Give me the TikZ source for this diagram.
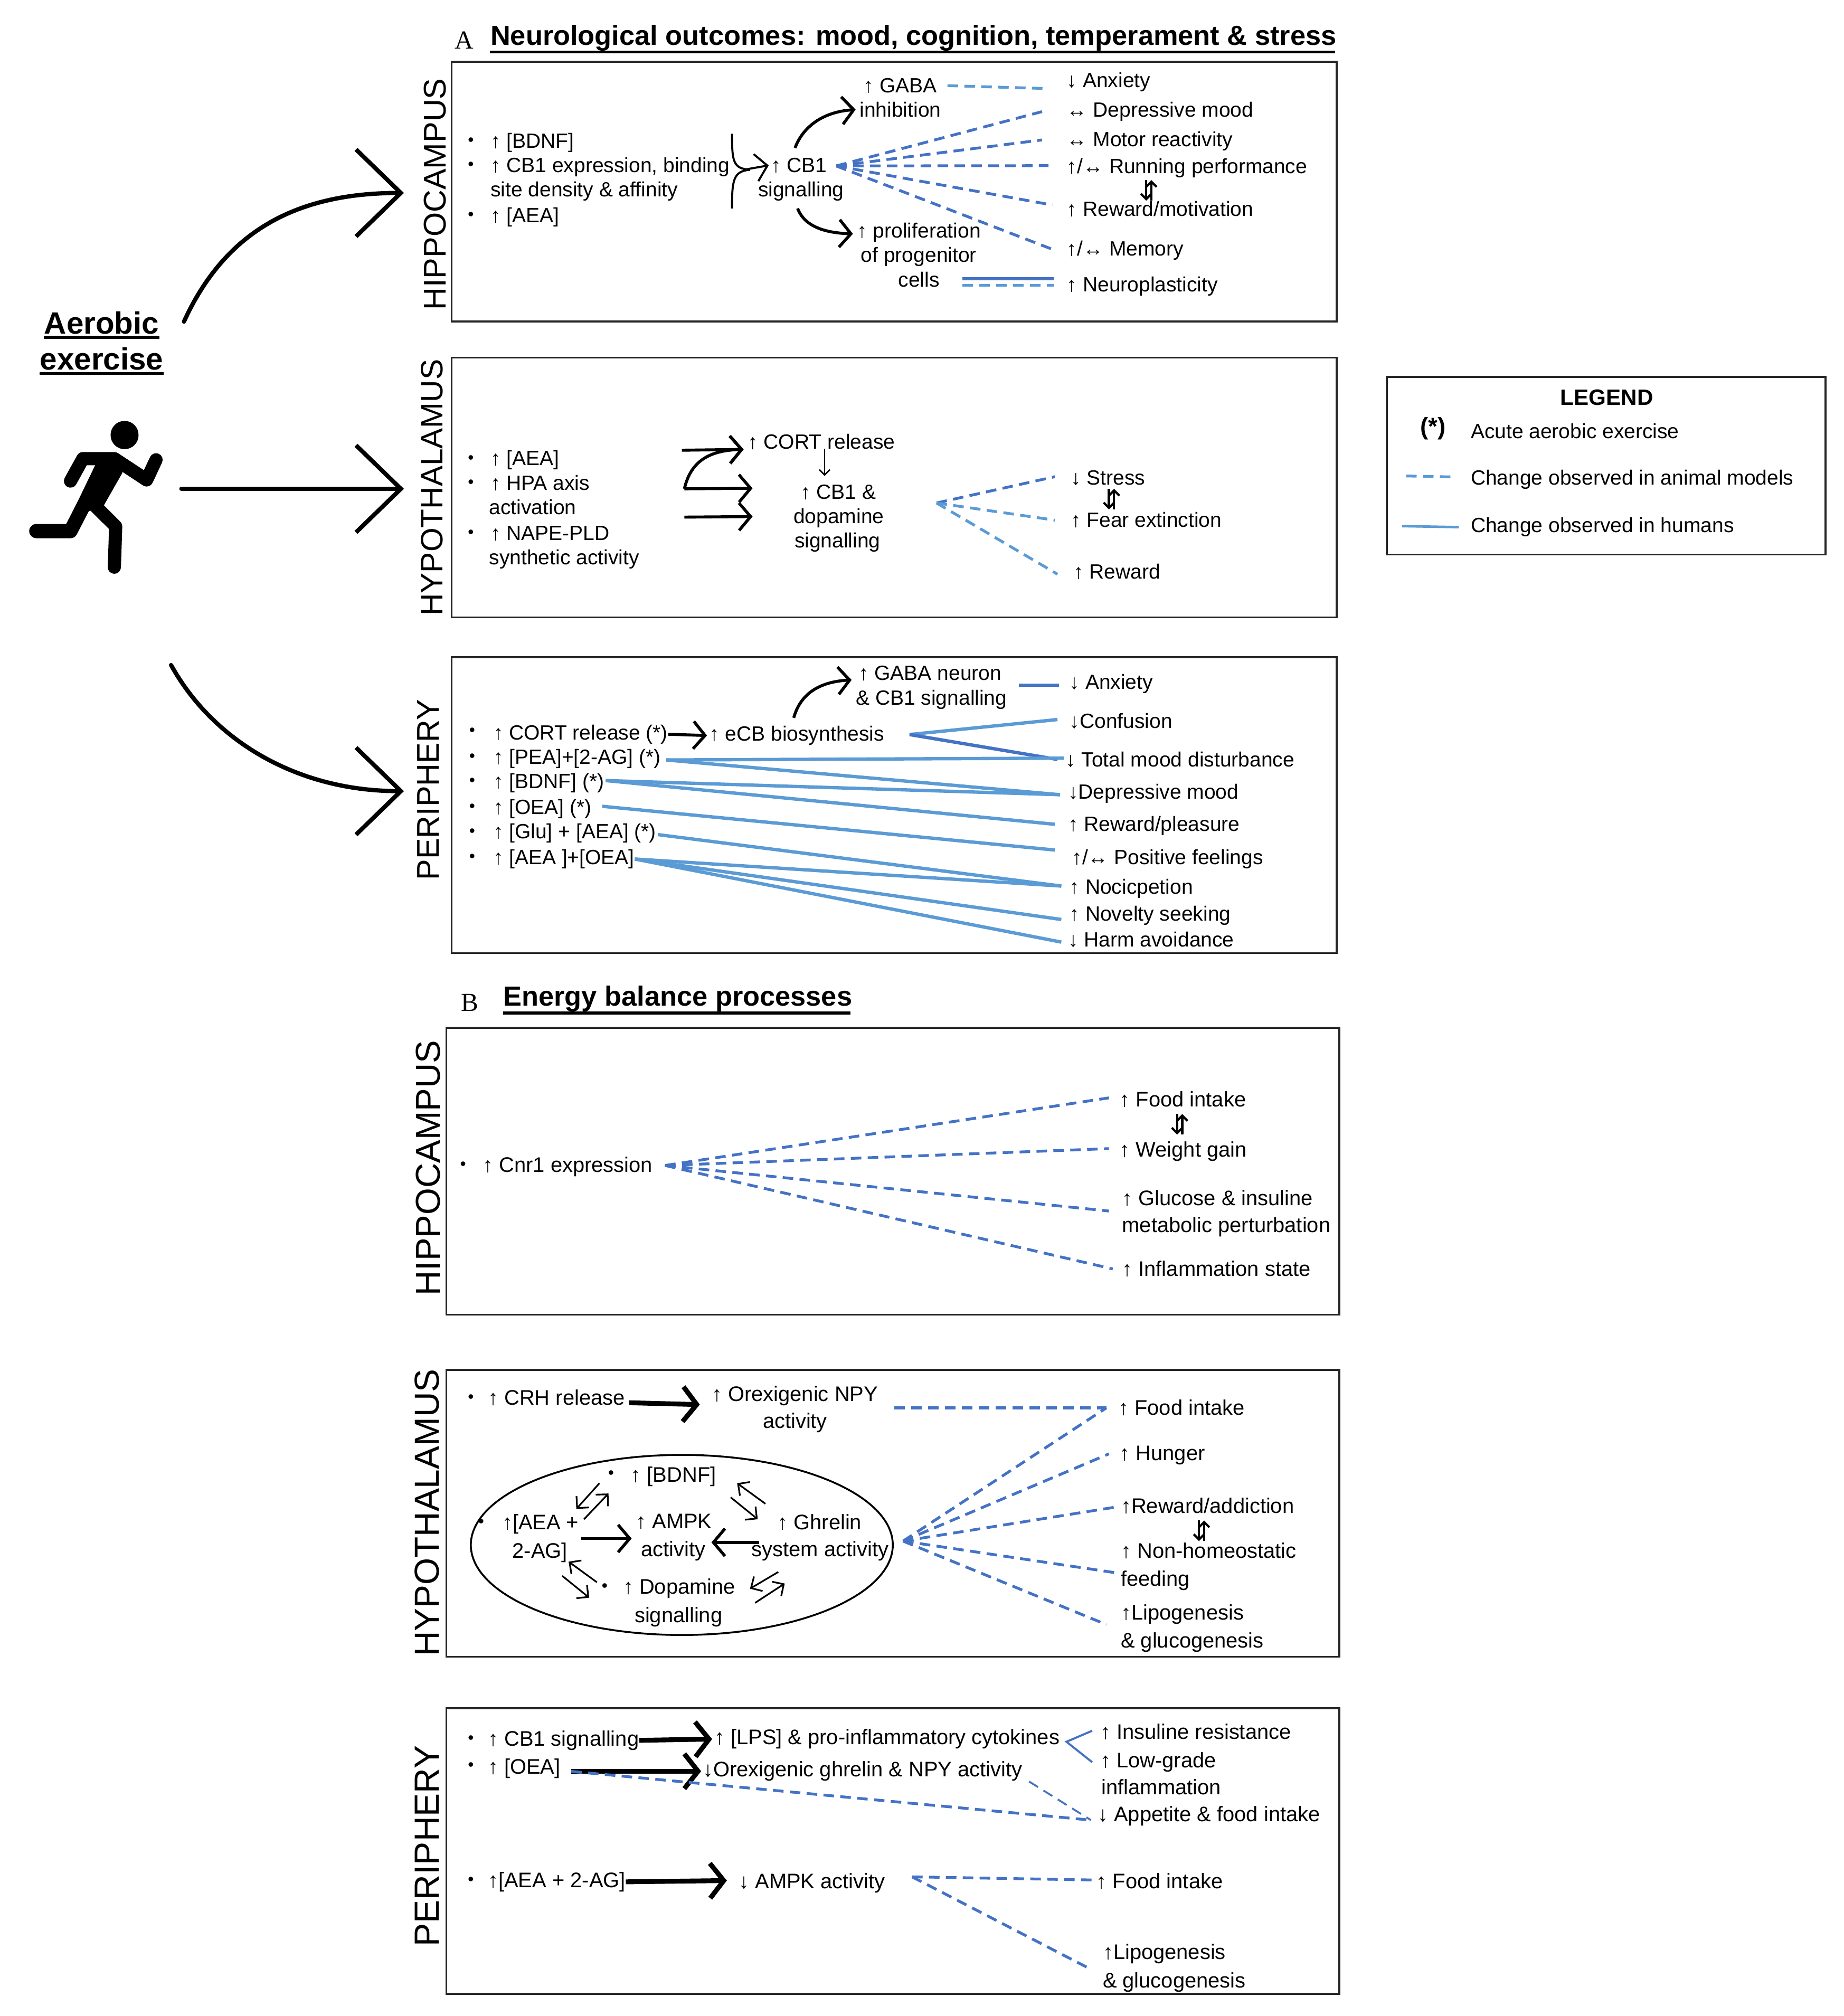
\documentclass[tikz,border=0pt]{standalone}
\usepackage{fontspec}
\setmainfont{Liberation Sans}
\newfontfamily\serifA{Liberation Serif}
\usetikzlibrary{arrows.meta,calc}
\definecolor{lightb}{HTML}{5B9BD5}
\definecolor{darkb}{HTML}{4472C4}
\tikzset{
 txt/.style={anchor=base west,inner sep=0pt,yshift=-0.12cm,font=\fontsize{11.1}{13}\selectfont},
 txtb/.style={anchor=base west,inner sep=0pt,yshift=-0.125cm,font=\fontsize{11.35}{14}\selectfont},
 bul/.style={anchor=center,inner sep=0pt,font=\fontsize{9}{10}\selectfont},
 ctr/.style={txt,anchor=base},
 panel/.style={draw=black!85,line width=1pt},
 vlab/.style={anchor=center,rotate=90,inner sep=0pt},
 ttl/.style={anchor=base west,inner sep=0pt,font=\fontsize{14.9}{16}\selectfont\bfseries},
 lett/.style={anchor=base,inner sep=0pt,font=\fontsize{14}{16}\selectfont\serifA},
 ttlrule/.style={line width=1.5pt,line cap=butt},
 dl/.style={draw=lightb,line width=1.5pt,dash pattern=on 0.2cm off 0.12cm},
 dd/.style={draw=darkb,line width=1.5pt,dash pattern=on 0.2cm off 0.12cm},
 sl/.style={draw=lightb,line width=1.8pt},
 sd/.style={draw=darkb,line width=1.8pt},
 bigarr/.style={line width=2.3pt,line cap=round,-{Straight Barb[length=0.85cm,width=1.65cm,line width=2.3pt]}},
 medarr/.style={line width=1.6pt,-{Straight Barb[length=0.22cm,width=0.52cm]}},
 hvyarr/.style={line width=2.6pt,-{Straight Barb[length=0.26cm,width=0.66cm]}},
 thnarr/.style={line width=0.8pt,-{Straight Barb[length=0.1cm,width=0.2cm]}},
 halfarr/.style={line width=0.9pt,-{Straight Barb[length=0.16cm,width=0.32cm]}},
 updown/.pic={
  \draw[line width=1.2pt,-{Straight Barb[length=0.1cm,width=0.2cm]}] (-2,-8) -- (-2,8);
  \draw[line width=1.2pt,-{Straight Barb[length=0.1cm,width=0.2cm]}] (2,8) -- (2,-8);
 },
}
\newcommand{\T}[4]{\node[txt] (#1) at (#2,#3) {#4};}
\newcommand{\U}[4]{\node[txtb] (#1) at (#2,#3) {#4};}
\newcommand{\Bu}[3]{\node[bul] (#1) at (#2,#3) {•};}
\begin{document}
\begin{tikzpicture}[x=0.02437cm,y=-0.02437cm]
\useasboundingbox (0,0) rectangle (34.92cm,-38.19cm);
% ---------- left column
\node[anchor=center,inner sep=0pt,font=\fontsize{16.6}{18}\selectfont\bfseries] (aer) at (79,251) {Aerobic};
\node[anchor=center,inner sep=0pt,font=\fontsize{16.6}{18}\selectfont\bfseries] (exe) at (79,279) {exercise};
\draw[ttlrule] ([yshift=-1.5pt]aer.south west) -- ([yshift=-1.5pt]aer.south east);
\draw[ttlrule] ([yshift=-1.5pt]exe.south west) -- ([yshift=-1.5pt]exe.south east);
\begin{scope}[yshift=-5cm,x=0.0051cm,y=-0.004464cm]
 \fill (463,725) ellipse [x radius=52,y radius=60];
 \fill (320,805) -- (430,800) -- (455,885) -- (385,1025) -- (325,1050) -- (245,1110) -- (355,850) -- cycle;
 \draw[line width=0.25cm,line cap=round,line join=round] (262,920) -- (308,825) -- (425,825) -- (545,915) -- (580,830);
 \draw[line width=0.27cm,line cap=round,line join=round] (135,1132) -- (262,1132) -- (340,960);
 \draw[line width=0.25cm,line cap=round,line join=round] (340,1010) -- (430,1112) -- (425,1285);
\end{scope}
\coordinate (a1s) at (143,250); \coordinate (a1e) at (314,150);
\coordinate (a2s) at (141,380); \coordinate (a2e) at (314,380);
\coordinate (a3s) at (133,517); \coordinate (a3e) at (314,615);
\draw[bigarr] (a1s) .. controls (175,180) and (230,150) .. (a1e);
\draw[bigarr] (a2s) -- (a2e);
\draw[bigarr] (a3s) .. controls (165,575) and (230,615) .. (a3e);
% ---------- panels
\node[ttl] (tA) at (381,35) {Neurological outcomes: mood, cognition, temperament \& stress};
\draw[ttlrule] ([yshift=-1pt]tA.base west) ++(0,4) -- ++(657,0);
\node[lett] (lA) at (361,38) {A};
\draw[panel] (351,48) rectangle (1039,250);
\draw[panel] (351,278) rectangle (1039,480);
\draw[panel] (351,511) rectangle (1039,741);
\node[ttl] (tB) at (391,782) {Energy balance processes};
\draw[ttlrule] ([yshift=-1pt]tB.base west) ++(0,4) -- ++(270,0);
\node[lett] (lB) at (365,786) {B};
\draw[panel] (347,799) rectangle (1041,1022);
\draw[panel] (347,1065) rectangle (1041,1288);
\draw[panel] (347,1328) rectangle (1041,1550);
\node[vlab,font=\fontsize{16.9}{19}\selectfont] (v1) at (338,151) {HIPPOCAMPUS};
\node[vlab,font=\fontsize{16.7}{19}\selectfont] (v2) at (336,379) {HYPOTHALAMUS};
\node[vlab,font=\fontsize{16.9}{19}\selectfont] (v3) at (333,614) {PERIPHERY};
\node[vlab,font=\fontsize{18.6}{21}\selectfont] (v4) at (333,908) {HIPPOCAMPUS};
\node[vlab,font=\fontsize{18.7}{21}\selectfont] (v5) at (332,1176) {HYPOTHALAMUS};
\node[vlab,font=\fontsize{18.8}{21}\selectfont] (v6) at (332,1435) {PERIPHERY};
% ---------- A hippocampus
\Bu{ba1}{366}{110}\Bu{ba2}{366}{129}\Bu{ba3}{366}{168}
\T{bdnf}{381}{110}{↑ [BDNF]}
\T{cb1e}{381}{129}{↑ CB1 expression, binding}
\T{site}{381}{148}{site density \& affinity}
\T{aea}{381}{168}{↑ [AEA]}
\T{cb1}{599}{129}{↑ CB1}
\T{sig}{589}{148}{signalling}
\T{gaba}{671}{67}{↑ GABA}
\T{inh}{668}{86}{inhibition}
\T{prol}{666}{180}{↑ proliferation}
\T{prog}{669}{199}{of progenitor}
\T{cells}{698}{218}{cells}
\T{anx}{829}{63}{↓ Anxiety}
\T{dep}{829}{86}{↔ Depressive mood}
\T{mot}{829}{109}{↔ Motor reactivity}
\T{run}{829}{130}{↑/↔ Running performance}
\T{rew}{829}{163}{↑ Reward/motivation}
\T{mem}{829}{194}{↑/↔ Memory}
\T{neu}{829}{222}{↑ Neuroplasticity}
\coordinate (br1) at (569,104); \coordinate (br2) at (569,162); \coordinate (brm) at (583,132);
\draw[line width=1.1pt] (br1) .. controls (569,126) and (570,131) .. (brm);
\draw[line width=1.1pt] (br2) .. controls (569,140) and (570,133) .. (brm);
\draw[medarr,line width=1.1pt] (578,132) -- ([xshift=-1]cb1.west);
\coordinate (cu) at (618,115); \coordinate (cd) at (620,162);
\draw[medarr] (cu) .. controls (624,99) and (639,87) .. ([xshift=-2]inh.west);
\draw[medarr] (cd) .. controls (625,175) and (639,181) .. ([shift={(-3,1)}]prol.west);
\coordinate (h1) at (650,129);
\draw[dl] ([shift={(8,0)}]gaba.east) -- ([shift={(-17,5)}]anx.west);
\draw[dd] (h1) -- ([shift={(-19,0)}]dep.west);
\draw[dd] (h1) -- ([shift={(-19,-1)}]mot.west);
\draw[dd] (h1) -- ([shift={(-14,-2)}]run.west);
\draw[dd] (h1) -- ([shift={(-11,-3)}]rew.west);
\draw[dd] (h1) -- ([shift={(-11,-1)}]mem.west);
\draw[sd] ([shift={(-81,-6)}]neu.west) -- ([shift={(-10,-6)}]neu.west);
\draw[dl] ([shift={(-81,-1)}]neu.west) -- ([shift={(-10,-1)}]neu.west);
\pic at (893,148) {updown};
% ---------- A hypothalamus
\Bu{bb1}{366}{357}\Bu{bb2}{366}{376}\Bu{bb3}{366}{415}
\T{haea}{381}{357}{↑ [AEA]}
\T{hpa}{381}{376}{↑ HPA axis}
\T{act}{380}{395}{activation}
\T{nape}{381}{415}{↑ NAPE-PLD}
\T{syn}{380}{434}{synthetic activity}
\T{cort}{581}{344}{↑ CORT release}
\T{hcb}{622}{383}{↑ CB1 \&}
\node[ctr] (hdop) at (652,402) {dopamine};
\node[ctr] (hsig) at (651,421) {signalling};
\coordinate (hs1) at (530,350); \coordinate (hs2) at (532,380); \coordinate (hs3) at (532,402);
\draw[medarr] (hs1) -- ([shift={(-3,6)}]cort.west);
\draw[medarr] (hs2) .. controls (537,358) and (552,350) .. ([shift={(-3,6)}]cort.west);
\draw[medarr] (hs2) -- ([shift={(-37,-3)}]hcb.west);
\draw[medarr] (hs3) -- ([shift={(-37,19)}]hcb.west);
\coordinate (cdn) at (641,349); \coordinate (cde) at (641,370);
\draw[thnarr] (cdn) -- (cde);
\T{str}{832}{372}{↓ Stress}
\T{fear}{832}{405}{↑ Fear extinction}
\T{hrew}{834}{445}{↑ Reward}
\coordinate (h2) at (728,391);
\draw[dd] (h2) -- ([shift={(-12,-1)}]str.west);
\draw[dl] (h2) -- ([shift={(-12,0)}]fear.west);
\draw[dl] (h2) -- ([shift={(-12,2)}]hrew.west);
\pic at (864,388) {updown};
% ---------- A periphery
\Bu{bc1}{367}{569}\Bu{bc2}{367}{589}\Bu{bc3}{367}{608}\Bu{bc4}{367}{628}\Bu{bc5}{367}{647}\Bu{bc6}{367}{667}
\T{pc}{383}{570}{↑ CORT release (*)}
\T{pp}{383}{589}{↑ [PEA]+[2-AG] (*)}
\T{pb}{383}{608}{↑ [BDNF] (*)}
\T{po}{383}{628}{↑ [OEA] (*)}
\T{pg}{383}{647}{↑ [Glu] + [AEA] (*)}
\T{pa}{383}{667}{↑ [AEA ]+[OEA]}
\T{ecb}{551}{571}{↑ eCB biosynthesis}
\T{pgab}{667}{524}{↑ GABA neuron}
\T{pcb}{665}{543}{\& CB1 signalling}
\T{panx}{831}{531}{↓ Anxiety}
\T{con}{831}{561}{↓Confusion}
\T{tot}{828}{591}{↓ Total mood disturbance}
\T{pdep}{830}{616}{↓Depressive mood}
\T{prw}{830}{641}{↑ Reward/pleasure}
\T{pos}{833}{667}{↑/↔ Positive feelings}
\T{noc}{831}{690}{↑ Nocicpetion}
\T{nov}{831}{711}{↑ Novelty seeking}
\T{har}{830}{731}{↓ Harm avoidance}
\draw[medarr] (pc.east) -- ([xshift=-1]ecb.west);
\coordinate (pcu) at (617,558);
\draw[medarr] (pcu) .. controls (622,540) and (636,530) .. ([shift={(-5,5)}]pgab.west);
\draw[sd] ([shift={(-39,1)}]panx.west) -- ([shift={(-8,1)}]panx.west);
\coordinate (e1) at (707,571);
\draw[sl] (e1) -- ([shift={(-9,-1)}]con.west);
\draw[sd] (e1) -- ([shift={(-6,0)}]tot.west);
\draw[sl] ([shift={(4,1)}]pp.east) -- ([shift={(-1,-1)}]tot.west);
\draw[sl] ([shift={(4,1)}]pp.east) -- ([shift={(-6,1)}]pdep.west);
\draw[sl] ([shift={(1,-2)}]pb.east) -- ([shift={(-6,1)}]pdep.west);
\draw[sl] ([shift={(1,-2)}]pb.east) -- ([shift={(-10,-1)}]prw.west);
\draw[sl] ([shift={(8,-2)}]po.east) -- ([shift={(-13,-7)}]pos.west);
\draw[sl] ([shift={(1,1)}]pg.east) -- ([shift={(-6,-2)}]noc.west);
\draw[sl] (pa.east) -- ([shift={(-6,-2)}]noc.west);
\draw[sl] (pa.east) -- ([shift={(-6,3)}]nov.west);
\draw[sl] (pa.east) -- ([shift={(-5,2)}]har.west);
% ---------- B hippocampus
\Bu{bd1}{360}{906}
\U{cnr}{375}{906}{↑ Cnr1 expression}
\U{food}{870}{855}{↑ Food intake}
\U{wei}{870}{894}{↑ Weight gain}
\U{glu}{872}{932}{↑ Glucose \& insuline}
\U{met}{872}{953}{metabolic perturbation}
\U{inf}{872}{987}{↑ Inflammation state}
\coordinate (h3) at (517,906);
\draw[dd] (h3) -- ([shift={(-8,-1)}]food.west);
\draw[dd] (h3) -- ([shift={(-8,-2)}]wei.west);
\draw[dd] (h3) -- ([shift={(-10,10)}]glu.west);
\draw[dd] (h3) -- ([shift={(-7,0)}]inf.west);
\pic at (917,874) {updown};
% ---------- B hypothalamus
\Bu{be1}{366}{1087}
\U{crh}{379}{1087}{↑ CRH release}
\U{npy}{553}{1084}{↑ Orexigenic NPY}
\node[txtb,anchor=base] (npa) at (618,1105) {activity};
\draw[hvyarr] ([shift={(3,4)}]crh.east) -- ([shift={(-9,7)}]npy.west);
\U{hfo}{869}{1095}{↑ Food intake}
\U{hun}{870}{1130}{↑ Hunger}
\U{hra}{871}{1171}{↑Reward/addiction}
\U{non}{871}{1206}{↑ Non-homeostatic}
\U{fee}{871}{1228}{feeding}
\U{lip}{871}{1254}{↑Lipogenesis}
\U{gcg}{871}{1276}{\& glucogenesis}
\draw[line width=1pt] (530,1201) ellipse [x radius=164,y radius=70];
\Bu{ee1}{475}{1146}\Bu{ee2}{374}{1184}\Bu{ee3}{470}{1234}
\U{ebd}{490}{1147}{↑ [BDNF]}
\U{eae}{390}{1184}{↑[AEA +}
\U{e2a}{398}{1206}{2-AG]}
\U{eam}{494}{1183}{↑ AMPK}
\U{eac}{498}{1205}{activity}
\U{egh}{604}{1184}{↑ Ghrelin}
\U{esy}{584}{1205}{system activity}
\U{edo}{484}{1234}{↑ Dopamine}
\U{esg}{493}{1256}{signalling}
\coordinate (x1) at (452,1196); \coordinate (x2) at (491,1196);
\coordinate (x3) at (590,1199); \coordinate (x4) at (553,1199);
\draw[medarr] (x1) -- (x2);
\draw[medarr] (x3) -- (x4);
\foreach \a/\b in {{466,1153}/{448,1173},{454,1181}/{473,1161},{595,1169}/{573,1153},{568,1164}/{589,1181},{464,1230}/{442,1214},{437,1225}/{458,1242},{605,1222}/{583,1235},{587,1246}/{610,1231}}
 \draw[halfarr] (\a) -- (\b);
\coordinate (h4) at (702,1198);
\draw[dd] ([shift={(-174,0)}]hfo.west) -- ([shift={(-9,0)}]hfo.west);
\draw[dd] (h4) -- ([shift={(-9,0)}]hfo.west);
\draw[dd] (h4) -- ([shift={(-8,-1)}]hun.west);
\draw[dd] (h4) -- ([shift={(-3,1)}]hra.west);
\draw[dd] (h4) -- ([shift={(-5,17)}]non.west);
\draw[dd] (h4) -- ([shift={(-11,8)}]lip.west);
\pic at (934,1190) {updown};
% ---------- B periphery
\Bu{bf1}{366}{1352}\Bu{bf2}{366}{1373}\Bu{bf3}{366}{1462}
\U{pcs}{379}{1352}{↑ CB1 signalling}
\U{lps}{555}{1351}{↑ [LPS] \& pro-inflammatory cytokines}
\U{oea}{379}{1374}{↑ [OEA]}
\U{ore}{546}{1376}{↓Orexigenic ghrelin \& NPY activity}
\U{ins}{855}{1347}{↑ Insuline resistance}
\U{low}{855}{1369}{↑ Low-grade}
\U{ifl}{856}{1390}{inflammation}
\U{app}{853}{1411}{↓ Appetite \& food intake}
\U{a2g}{379}{1462}{↑[AEA + 2-AG]}
\U{amp}{574}{1463}{↓ AMPK activity}
\U{pfi}{852}{1463}{↑ Food intake}
\U{pli}{857}{1518}{↑Lipogenesis}
\U{pgl}{857}{1540}{\& glucogenesis}
\draw[hvyarr] (pcs.east) -- ([xshift=-1]lps.west);
\draw[hvyarr] ([shift={(8,2)}]oea.east) -- ([shift={(-1,0)}]ore.west);
\draw[hvyarr] (a2g.east) -- ([shift={(-9,-2)}]amp.west);
\coordinate (m1) at (444,1377);
\draw[dd] (m1) -- ([shift={(-5,3)}]app.west);
\draw[dd,line width=1pt] ([shift={(5,8)}]ore.east) -- ([shift={(-5,3)}]app.west);
\coordinate (m2) at (829,1354);
\draw[darkb,line width=1.1pt] ([shift={(-6,-1)}]ins.west) -- (m2) -- ([shift={(-6,0)}]low.west);
\coordinate (h5) at (709,1459);
\draw[dd] (h5) -- ([shift={(-3,-1)}]pfi.west);
\draw[dd] (h5) -- ([shift={(-9,12)}]pli.west);
% ---------- legend
\draw[panel] (1078,293) rectangle (1419,431);
\node[anchor=center,inner sep=0pt,font=\fontsize{12}{14}\selectfont\bfseries] (lg) at (1249,309) {LEGEND};
\node[anchor=center,inner sep=0pt,font=\fontsize{13}{15}\selectfont\bfseries] (ast) at (1114,333) {(*)};
\T{l1}{1143}{336}{Acute aerobic exercise}
\T{l2}{1143}{372}{Change observed in animal models}
\T{l3}{1143}{409}{Change observed in humans}
\coordinate (k1) at (1093,370); \coordinate (k2) at (1090,409);
\draw[dl] (k1) -- ([shift={(-13,-2)}]l2.west);
\draw[sl,line width=1.35pt] (k2) -- ([shift={(-9,0)}]l3.west);
\end{tikzpicture}
\end{document}
